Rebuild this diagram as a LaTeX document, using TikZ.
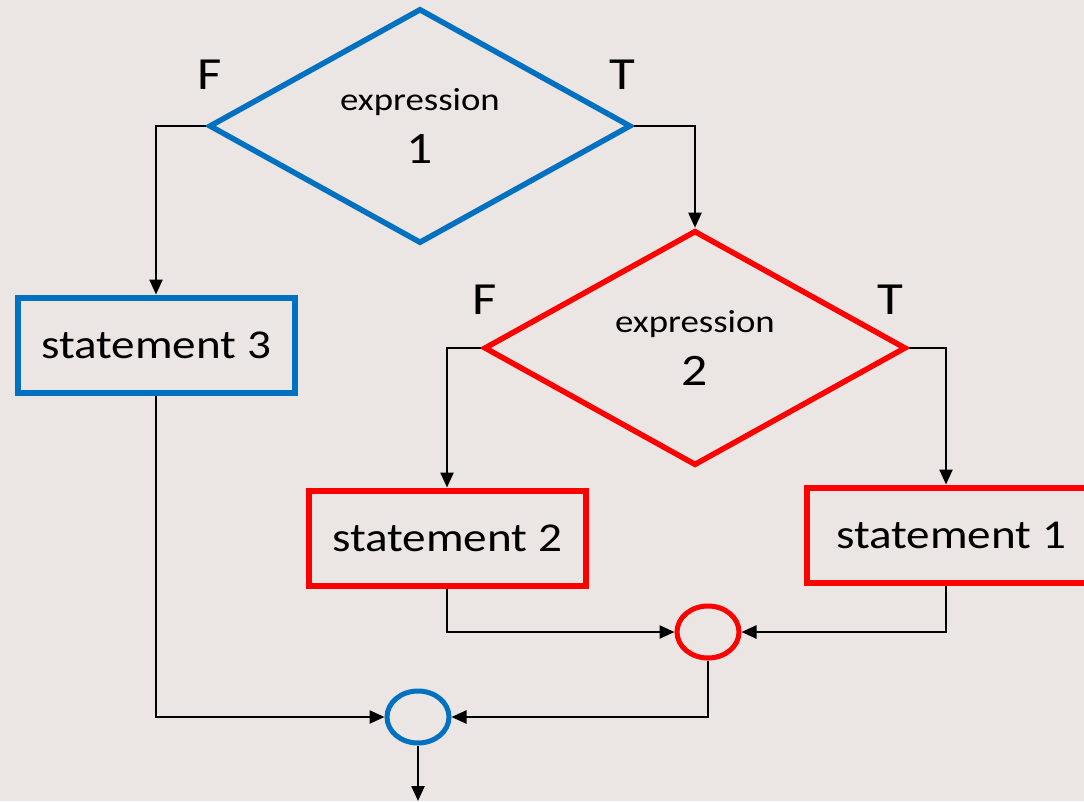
\documentclass[tikz,border=0pt]{standalone}
\usepackage{fontspec}
\setmainfont{Carlito}[FakeStretch=1.15]
\usepackage{xcolor}
\usepackage{tikz}
\usetikzlibrary{arrows.meta,shapes.geometric}
\definecolor{bgtone}{RGB}{235,229,227}
\definecolor{selblue}{RGB}{0,112,192}
\definecolor{selred}{RGB}{255,0,0}
\newcommand{\bigtxt}{\fontsize{41}{49}\selectfont}
\newcommand{\exptxt}{\fontsize{32}{38}\selectfont}
\newcommand{\numtxt}{\fontsize{45}{54}\selectfont}
\newcommand{\tftxt}{\fontsize{46}{55}\selectfont}

\begin{document}
\begin{tikzpicture}[x=1pt,y=-1pt]
\tikzstyle{conn}=[-{Triangle[length=15pt,width=13pt]},line width=2.4pt];
\tikzstyle{test}=[diamond,draw,line width=5.5pt,inner sep=0pt,minimum width=422pt,minimum height=228pt,align=center];
\tikzstyle{stmt}=[rectangle,draw,line width=6pt,minimum width=277pt,minimum height=95pt,inner sep=0pt];
\tikzstyle{merge}=[ellipse,draw,line width=5pt,minimum width=62pt,minimum height=52pt,inner sep=0pt];
\clip (0,0) rectangle (1084,801);
\fill[bgtone] (0,0) rectangle (1084,801);
% decisions
\node[test,selblue](d1) at (420,126){\exptxt\color{black}expression\\[18pt]\numtxt\color{black}1};
\node[test,selred](d2) at (695,348){\exptxt\color{black}expression\\[18pt]\numtxt\color{black}2};
\node(f1) at (210,75){\tftxt F};
\node(t1) at (622,75){\tftxt T};
\node(f2) at (485,300){\tftxt F};
\node(t2) at (890,300){\tftxt T};
% statements
\node[stmt,selblue](s3) at (156,345){\bigtxt\color{black}statement 3};
\node[stmt,selred](s2) at (447,538){\bigtxt\color{black}statement 2};
\node[stmt,selred,minimum width=288pt](s1) at (951,535){\bigtxt\color{black}statement 1\hspace{10pt}};
% merge points
\node[merge,selred](c2) at (708,632){};
\node[merge,selblue](c1) at (418,717){};
\coordinate(out) at (418,801);
\draw [conn] (d1.west) -| (s3.north);
\draw [conn] (d1.east) -| (d2.north);
\draw [conn] (d2.west) -| (s2.north);
\draw [conn] (d2.east) -| ([xshift=-5pt]s1.north);
\draw [conn] (s2.south) |- (c2.west);
\draw [conn] ([xshift=-5pt]s1.south) |- (c2.east);
\draw [conn] (c2.south) |- (c1.east);
\draw [conn] (s3.south) |- (c1.west);
\draw [conn] (c1.south) -- (out);
\end{tikzpicture}
\end{document}
